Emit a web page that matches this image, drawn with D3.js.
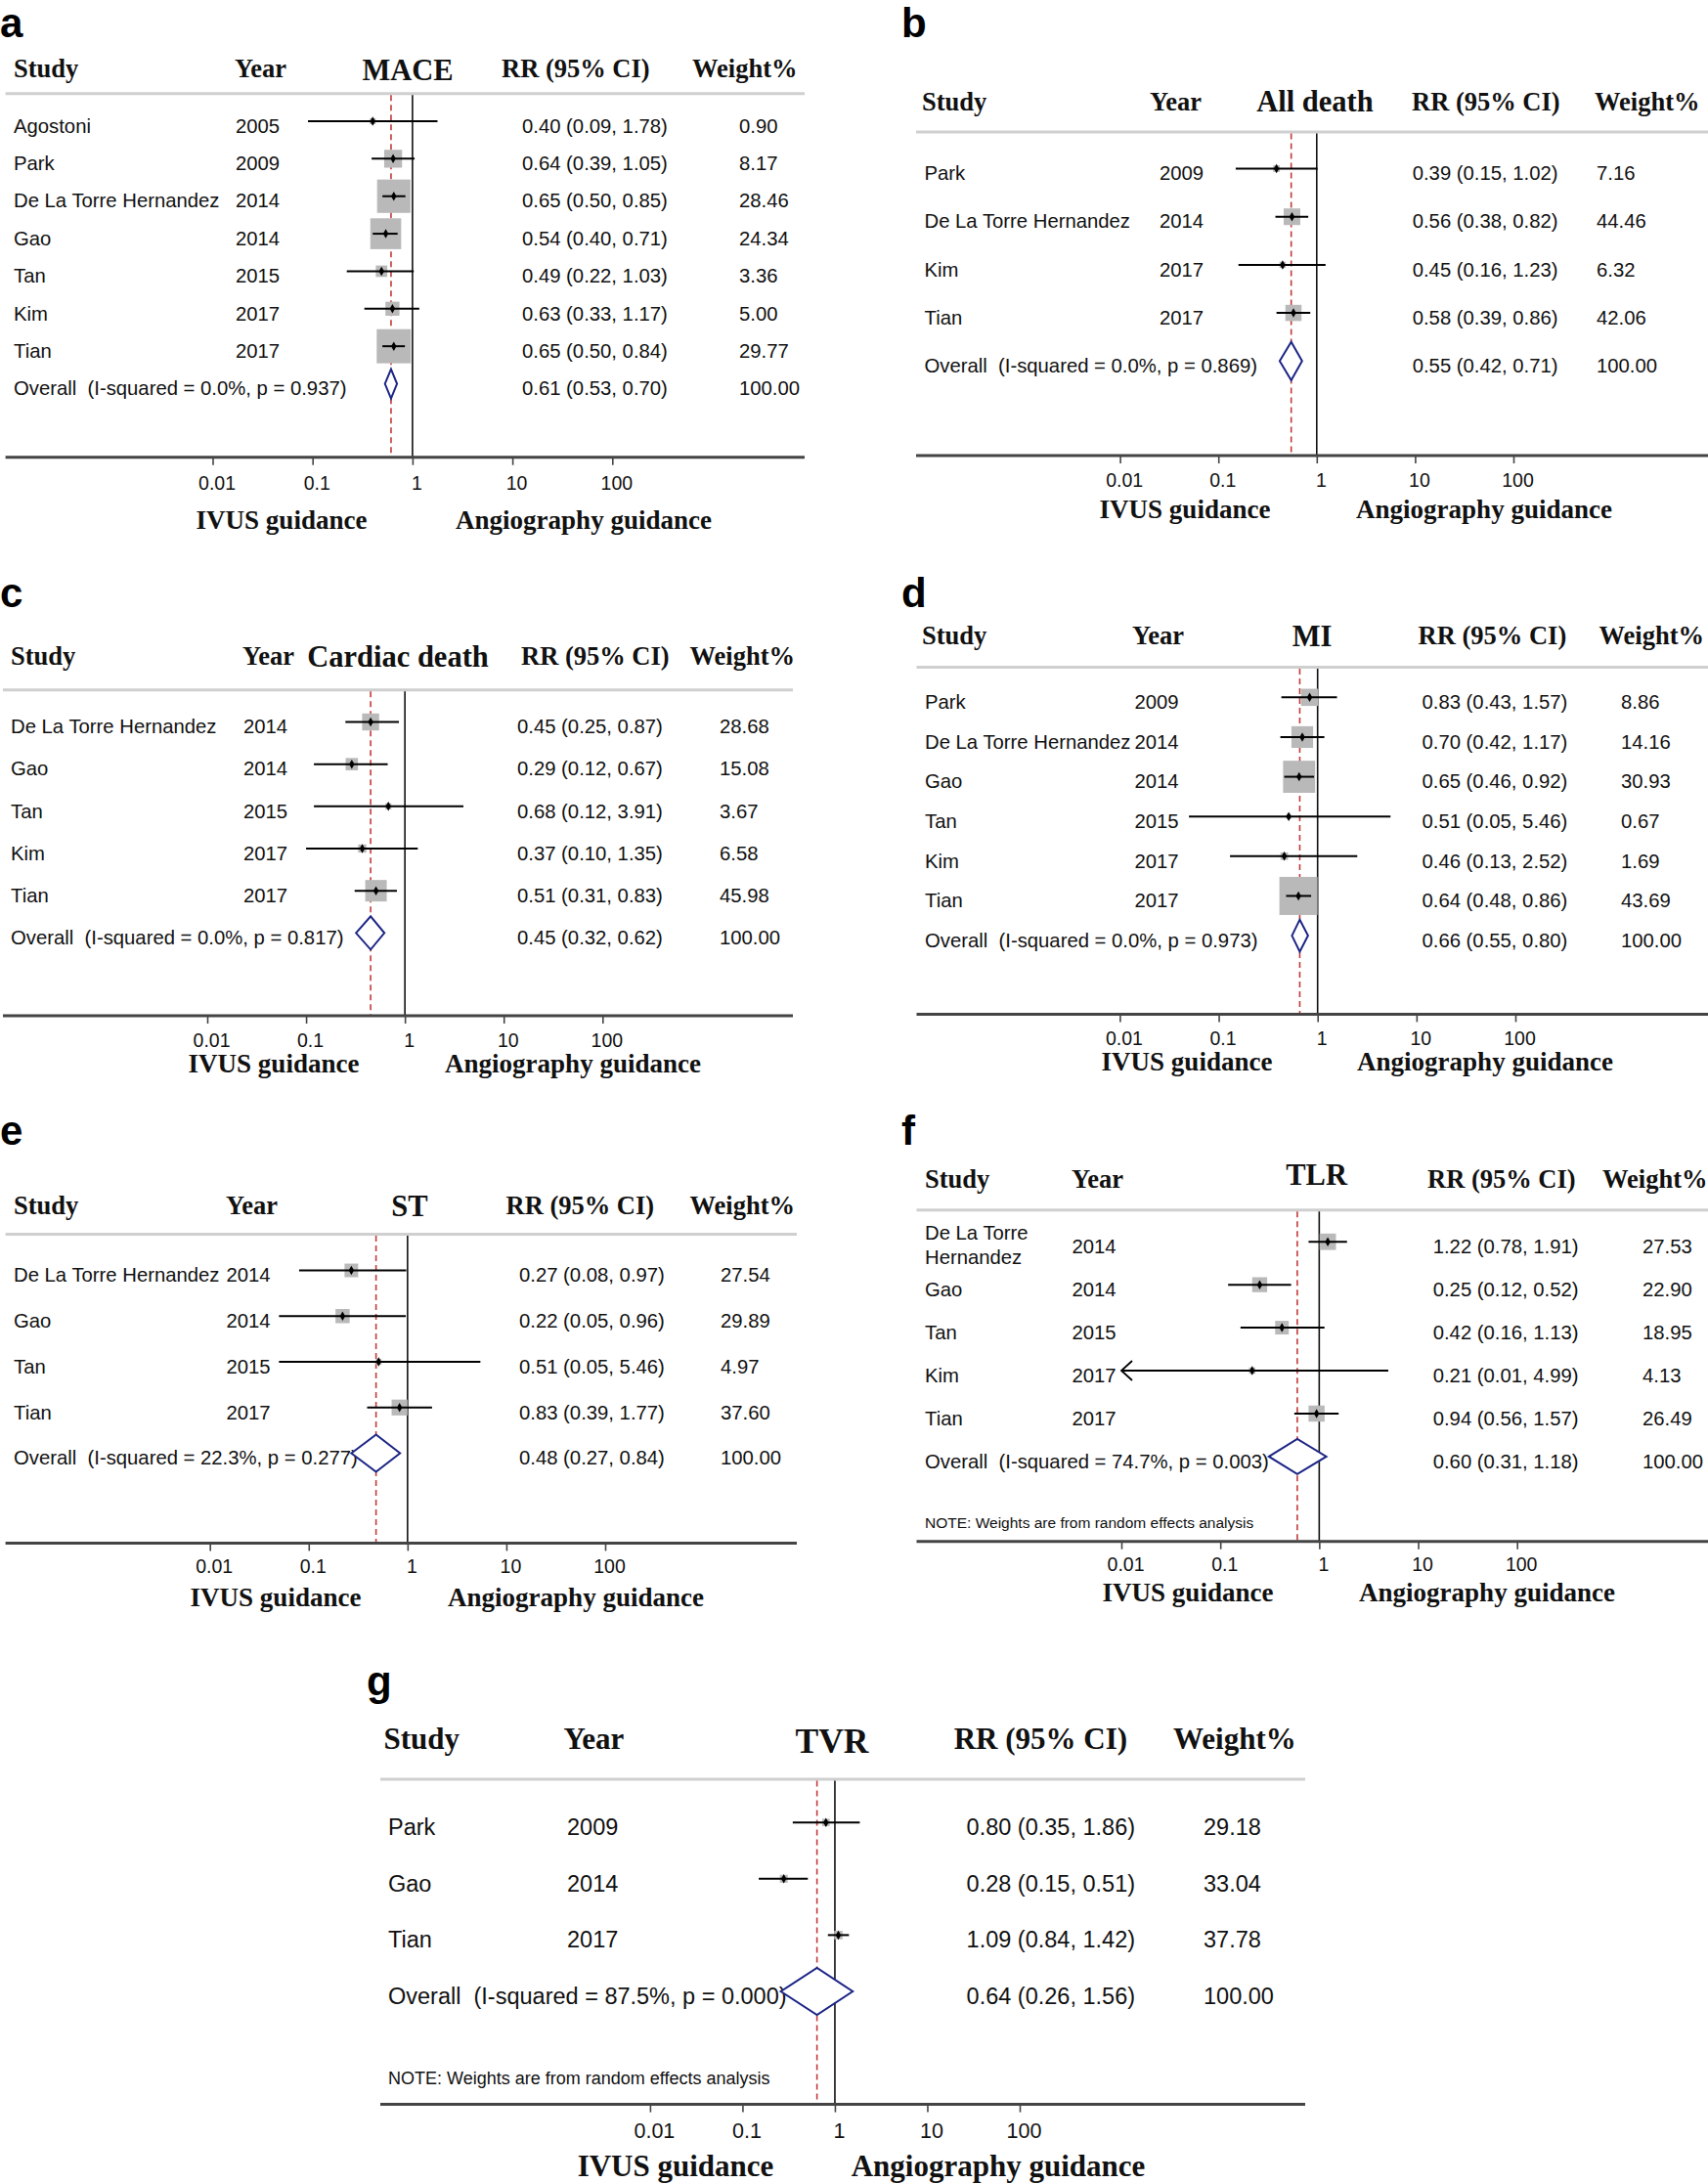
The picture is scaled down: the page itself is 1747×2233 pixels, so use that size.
<!DOCTYPE html>
<html><head><meta charset="utf-8">
<script src="https://cdn.jsdelivr.net/npm/d3@7"></script>
<style>body{margin:0;background:#fff} svg text{white-space:pre}</style>
</head><body><svg id="chart" width="1747" height="2233"></svg>
<script>
// ---------------- DATA ----------------
const ticksRR = [0.01, 0.1, 1, 10, 100];
const tickLabels = ["0.01", "0.1", "1", "10", "100"];
const columnHeads = ["Study", "Year", "RR (95% CI)", "Weight%"];
const guideLabels = ["IVUS guidance", "Angiography guidance"];
const noteText = "NOTE: Weights are from random effects analysis";
const panelLetters = ["a", "b", "c", "d", "e", "f", "g"];
const outcomes = ["MACE", "All death", "Cardiac death", "MI", "ST", "TLR", "TVR"];

// rows: [study, year, RR, lower, upper, weight%]
const maceRows = [
  ["Agostoni", 2005, 0.40, 0.09, 1.78, 0.90],
  ["Park", 2009, 0.64, 0.39, 1.05, 8.17],
  ["De La Torre Hernandez", 2014, 0.65, 0.50, 0.85, 28.46],
  ["Gao", 2014, 0.54, 0.40, 0.71, 24.34],
  ["Tan", 2015, 0.49, 0.22, 1.03, 3.36],
  ["Kim", 2017, 0.63, 0.33, 1.17, 5.00],
  ["Tian", 2017, 0.65, 0.50, 0.84, 29.77]
];
const allDeathRows = [
  ["Park", 2009, 0.39, 0.15, 1.02, 7.16],
  ["De La Torre Hernandez", 2014, 0.56, 0.38, 0.82, 44.46],
  ["Kim", 2017, 0.45, 0.16, 1.23, 6.32],
  ["Tian", 2017, 0.58, 0.39, 0.86, 42.06]
];
const cardiacDeathRows = [
  ["De La Torre Hernandez", 2014, 0.45, 0.25, 0.87, 28.68],
  ["Gao", 2014, 0.29, 0.12, 0.67, 15.08],
  ["Tan", 2015, 0.68, 0.12, 3.91, 3.67],
  ["Kim", 2017, 0.37, 0.10, 1.35, 6.58],
  ["Tian", 2017, 0.51, 0.31, 0.83, 45.98]
];
const miRows = [
  ["Park", 2009, 0.83, 0.43, 1.57, 8.86],
  ["De La Torre Hernandez", 2014, 0.70, 0.42, 1.17, 14.16],
  ["Gao", 2014, 0.65, 0.46, 0.92, 30.93],
  ["Tan", 2015, 0.51, 0.05, 5.46, 0.67],
  ["Kim", 2017, 0.46, 0.13, 2.52, 1.69],
  ["Tian", 2017, 0.64, 0.48, 0.86, 43.69]
];
const stRows = [
  ["De La Torre Hernandez", 2014, 0.27, 0.08, 0.97, 27.54],
  ["Gao", 2014, 0.22, 0.05, 0.96, 29.89],
  ["Tan", 2015, 0.51, 0.05, 5.46, 4.97],
  ["Tian", 2017, 0.83, 0.39, 1.77, 37.60]
];
const tlrRows = [
  ["De La Torre\nHernandez", 2014, 1.22, 0.78, 1.91, 27.53],
  ["Gao", 2014, 0.25, 0.12, 0.52, 22.90],
  ["Tan", 2015, 0.42, 0.16, 1.13, 18.95],
  ["Kim", 2017, 0.21, 0.01, 4.99, 4.13],
  ["Tian", 2017, 0.94, 0.56, 1.57, 26.49]
];
const tvrRows = [
  ["Park", 2009, 0.80, 0.35, 1.86, 29.18],
  ["Gao", 2014, 0.28, 0.15, 0.51, 33.04],
  ["Tian", 2017, 1.09, 0.84, 1.42, 37.78]
];
const studyRows = [maceRows, allDeathRows, cardiacDeathRows, miRows, stRows, tlrRows, tvrRows];
const overallRR   = [0.61, 0.55, 0.45, 0.66, 0.48, 0.60, 0.64];
const overallLow  = [0.53, 0.42, 0.32, 0.55, 0.27, 0.31, 0.26];
const overallHigh = [0.70, 0.71, 0.62, 0.80, 0.84, 1.18, 1.56];
const iSquared    = [0.0, 0.0, 0.0, 0.0, 22.3, 74.7, 87.5];
const pHet        = [0.937, 0.869, 0.817, 0.973, 0.277, 0.003, 0.000];
const hasNote     = [false, false, false, false, false, true, true];

// ---------------- LAYOUT ----------------
const FS = {row: 20.3, head: 26.5, title: 30.5, tick: 19.5, guide: 27, note: 15.5};
const FSg = {row: 23.5, head: 31, title: 35.5, tick: 21.5, guide: 31, note: 18};
const layouts = [
  {lx:0, ly:38, hy:79, ty:82, hx:[14,240,417,513,708], gy:95.7, gx:[5.6,823], r0:128.5, rs:38.36, cx:[14,241,534,756], ay:467.7, t:[217.5,626.3], tly:494.5, gly:532, gxs:[288,597], k:6.4, dh:15, fs:FS},
  {lx:922, ly:38, hy:112.5, ty:113.5, hx:[943,1176,1345,1444,1631], gy:135, gx:[937,1747], r0:177, rs:49.2, cx:[945.5,1186,1444.7,1633], ay:466, t:[1145.6,1548], tly:491, gly:521, gxs:[1212,1518], k:2.55, dh:19.6, fs:FS},
  {lx:0, ly:621, hy:680, ty:682, hx:[11,248,407,533,705.5], gy:705.7, gx:[3,811], r0:743, rs:43.16, cx:[11,249,529,736], ay:1039, t:[212,616.3], tly:1064, gly:1088, gxs:[280,586], k:3.24, dh:17, fs:FS},
  {lx:922, ly:621, hy:658.5, ty:661, hx:[943,1158,1342,1450.6,1635.5], gy:682.6, gx:[937.5,1747], r0:717.8, rs:40.63, cx:[946,1160.5,1454.5,1658], ay:1037.4, t:[1145.4,1550], tly:1062, gly:1085.6, gxs:[1214,1519], k:5.9, dh:16.4, fs:FS},
  {lx:0, ly:1171, hy:1242, ty:1244, hx:[14,231,419,517.5,705.5], gy:1262.6, gx:[5.6,815], r0:1304, rs:46.75, cx:[14,231.5,531,737], ay:1578.4, t:[214.7,619], tly:1601.8, gly:1634.5, gxs:[282,589], k:2.65, dh:19, fs:FS},
  {lx:922, ly:1171, hy:1215, ty:1212, hx:[946,1096,1346.6,1460,1639], gy:1237.8, gx:[937.5,1747], r0:1274.7, rs:43.94, cx:[946,1096.5,1465.7,1680], ay:1576.7, t:[1147,1551.7], tly:1600, gly:1629, gxs:[1215,1521], k:3.2, dh:18, ny:1557, fs:FS},
  {lx:375, ly:1734, hy:1789, ty:1793, hx:[392.4,576.4,851,975.7,1200], gy:1820, gx:[389,1335], r0:1868.7, rs:57.6, cx:[397,580,988.6,1231], ay:2152.6, t:[664.9,1043], tly:2179, gly:2216, gxs:[691,1021], k:1.4, dh:24, ny:2126, fs:FSg}
];

const SERIF = "'Liberation Serif','Times New Roman',serif";
const SANS = "'Liberation Sans',Arial,sans-serif";
const fmt = d3.format(".2f");
const svg = d3.select("#chart");
svg.append("rect").attr("width", 1747).attr("height", 2233).attr("fill", "#fff");

function drawPanel(i) {
  const L = layouts[i], rows = studyRows[i], F = L.fs;
  const g = svg.append("g");
  const x = d3.scaleLog().domain([ticksRR[0], ticksRR[ticksRR.length - 1]]).range(L.t);
  const yc = k => L.r0 + k * L.rs;      // text centre
  const ym = k => yc(k) - 4.5;          // marker centre
  const base = (c, fs) => c + 0.358 * fs;

  g.append("text").attr("x", L.lx).attr("y", L.ly)
    .attr("font-family", SANS).attr("font-weight", "bold").attr("font-size", 42)
    .attr("fill", "#000").text(panelLetters[i]);

  const heads = g.append("g").attr("font-family", SERIF).attr("font-weight", "bold")
    .attr("font-size", F.head).attr("fill", "#111");
  heads.append("text").attr("x", L.hx[0]).attr("y", L.hy).text(columnHeads[0]);
  heads.append("text").attr("x", L.hx[1]).attr("y", L.hy).text(columnHeads[1]);
  heads.append("text").attr("x", L.hx[3]).attr("y", L.hy).text(columnHeads[2]);
  heads.append("text").attr("x", L.hx[4]).attr("y", L.hy).text(columnHeads[3]);
  heads.append("text").attr("x", L.hx[2]).attr("y", L.ty).attr("text-anchor", "middle")
    .attr("font-size", F.title).text(outcomes[i]);

  g.append("line").attr("x1", L.gx[0]).attr("x2", L.gx[1]).attr("y1", L.gy).attr("y2", L.gy)
    .attr("stroke", "#cfcfcf").attr("stroke-width", 3);

  // reference line at RR = 1 and overall dashed line
  g.append("line").attr("x1", x(1)).attr("x2", x(1)).attr("y1", L.gy + 1.5).attr("y2", L.ay)
    .attr("stroke", "#111").attr("stroke-width", 1.6);
  g.append("line").attr("x1", x(overallRR[i])).attr("x2", x(overallRR[i]))
    .attr("y1", L.gy + 1.5).attr("y2", L.ay)
    .attr("stroke", "#c23a3a").attr("stroke-width", 1.6).attr("stroke-dasharray", "6,4");

  // weight boxes
  g.selectAll("rect.box").data(rows).join("rect").attr("class", "box")
    .attr("x", d => x(d[2]) - L.k * Math.sqrt(d[5]) / 2)
    .attr("y", (d, k) => ym(k) - L.k * Math.sqrt(d[5]) / 2)
    .attr("width", d => L.k * Math.sqrt(d[5]))
    .attr("height", d => L.k * Math.sqrt(d[5]))
    .attr("fill", "#b9b9b9");

  // CI lines
  const lo = ticksRR[0];
  g.selectAll("line.ci").data(rows).join("line").attr("class", "ci")
    .attr("x1", d => x(Math.max(d[3], lo))).attr("x2", d => x(d[4]))
    .attr("y1", (d, k) => ym(k)).attr("y2", (d, k) => ym(k))
    .attr("stroke", "#000").attr("stroke-width", 2);
  // arrow for truncated CI
  g.selectAll("path.arrow").data(rows.map((d, k) => [d, k]).filter(e => e[0][3] <= lo)).join("path")
    .attr("class", "arrow")
    .attr("d", e => { const x0 = x(lo), y0 = ym(e[1]); return `M${x0 + 11},${y0 - 10}L${x0},${y0}L${x0 + 11},${y0 + 10}`; })
    .attr("fill", "none").attr("stroke", "#000").attr("stroke-width", 1.8);
  // point estimates
  g.selectAll("path.pt").data(rows).join("path").attr("class", "pt")
    .attr("transform", (d, k) => `translate(${x(d[2])},${ym(k)})`)
    .attr("d", d3.symbol(d3.symbolDiamond, 26)).attr("fill", "#000");

  // row texts
  const tx = g.append("g").attr("font-family", SANS).attr("font-size", F.row).attr("fill", "#111");
  rows.forEach((d, k) => {
    const lines = d[0].split("\n");
    lines.forEach((s, j) => {
      const off = lines.length > 1 ? (j - (lines.length - 1) / 2) * 24.8 - 1.5 : 0;
      tx.append("text").attr("x", L.cx[0]).attr("y", base(yc(k) + off, F.row)).text(s);
    });
    tx.append("text").attr("x", L.cx[1]).attr("y", base(yc(k), F.row)).text(d[1]);
    tx.append("text").attr("x", L.cx[2]).attr("y", base(yc(k), F.row))
      .text(`${fmt(d[2])} (${fmt(d[3])}, ${fmt(d[4])})`);
    tx.append("text").attr("x", L.cx[3]).attr("y", base(yc(k), F.row)).text(fmt(d[5]));
  });

  // overall
  const n = rows.length;
  const oy = ym(n);
  g.append("path")
    .attr("d", `M${x(overallLow[i])},${oy}L${x(overallRR[i])},${oy - L.dh}L${x(overallHigh[i])},${oy}L${x(overallRR[i])},${oy + L.dh}Z`)
    .attr("fill", "#fff").attr("stroke", "#1c2585").attr("stroke-width", 2);
  tx.append("text").attr("x", L.cx[0]).attr("y", base(yc(n), F.row))
    .text(`Overall  (I-squared = ${iSquared[i].toFixed(1)}%, p = ${pHet[i].toFixed(3)})`);
  tx.append("text").attr("x", L.cx[2]).attr("y", base(yc(n), F.row))
    .text(`${fmt(overallRR[i])} (${fmt(overallLow[i])}, ${fmt(overallHigh[i])})`);
  tx.append("text").attr("x", L.cx[3]).attr("y", base(yc(n), F.row)).text(fmt(100));

  if (hasNote[i]) {
    g.append("text").attr("x", L.cx[0]).attr("y", base(L.ny, F.note))
      .attr("font-family", SANS).attr("font-size", F.note).attr("fill", "#111").text(noteText);
  }

  // axis
  g.append("line").attr("x1", L.gx[0]).attr("x2", L.gx[1]).attr("y1", L.ay).attr("y2", L.ay)
    .attr("stroke", "#444").attr("stroke-width", 3);
  const axis = d3.axisBottom(x).tickValues(ticksRR)
    .tickFormat(d => tickLabels[ticksRR.indexOf(d)]).tickSize(8);
  const ag = g.append("g").attr("transform", `translate(0,${L.ay})`).call(axis);
  ag.select(".domain").remove();
  ag.selectAll(".tick line").attr("stroke", "#444").attr("stroke-width", 1.6);
  ag.selectAll(".tick text").attr("font-family", SANS).attr("font-size", F.tick).attr("fill", "#111")
    .attr("dy", null).attr("y", base(L.tly - L.ay, F.tick)).attr("dx", 4);

  const gl = g.append("g").attr("font-family", SERIF).attr("font-weight", "bold")
    .attr("font-size", F.guide).attr("fill", "#111").attr("text-anchor", "middle");
  gl.append("text").attr("x", L.gxs[0]).attr("y", L.gly + 0.33 * F.guide).text(guideLabels[0]);
  gl.append("text").attr("x", L.gxs[1]).attr("y", L.gly + 0.33 * F.guide).text(guideLabels[1]);
}

layouts.forEach((L, i) => drawPanel(i));
</script>
</body></html>
